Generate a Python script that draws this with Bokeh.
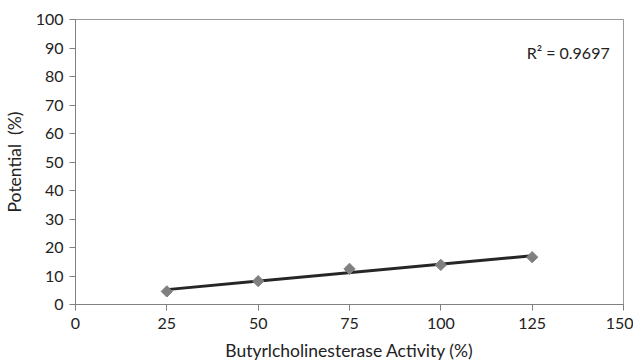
from bokeh.plotting import figure
from bokeh.models import Range1d, FixedTicker, Label, ColumnDataSource
from bokeh.embed import file_html
from bokeh.resources import INLINE
import numpy as np

activity = [25, 50, 75, 100, 125]
potential = [4.6, 8.2, 12.5, 13.9, 16.6]
x_ticks = [0, 25, 50, 75, 100, 125, 150]
y_ticks = [0, 10, 20, 30, 40, 50, 60, 70, 80, 90, 100]
r2_text = "R\u00b2 = 0.9697"
x_title = "Butyrlcholinesterase Activity (%)"
y_title = "Potential\u00a0\u00a0(%)"

FONT = "Lato"

p = figure(width=633, height=363, output_backend="svg", toolbar_location=None,
           x_range=Range1d(0, 150), y_range=Range1d(0, 100),
           min_border_left=10, min_border_right=10, min_border_top=19, min_border_bottom=10)
p.background_fill_color = "white"
p.border_fill_color = "white"
p.outline_line_color = "#9a9a9a"
p.outline_line_width = 1
p.xgrid.visible = False
p.ygrid.visible = False

# trend line (least-squares fit of the points)
slope, intercept = np.polyfit(activity, potential, 1)
fx = [activity[0], activity[-1]]
fy = [slope * v + intercept for v in fx]
p.line(fx, fy, line_color="#262626", line_width=3)

src = ColumnDataSource(dict(x=activity, y=potential))
p.scatter("x", "y", source=src, marker="square", size=8, angle=np.pi / 4,
          fill_color="#808080", line_color="#808080")

for ax in (p.xaxis, p.yaxis):
    ax.axis_line_color = "#808080"
    ax.major_tick_line_color = "#808080"
    ax.major_tick_out = 6
    ax.major_tick_in = 0
    ax.minor_tick_line_color = None
    ax.major_label_text_font = FONT
    ax.major_label_text_font_size = "16px"
    ax.major_label_text_color = "#222222"
    ax.axis_label_text_font = FONT
    ax.axis_label_text_font_size = "17.5px"
    ax.axis_label_text_font_style = "normal"
    ax.axis_label_text_color = "#222222"

p.xaxis.ticker = FixedTicker(ticks=x_ticks)
p.yaxis.ticker = FixedTicker(ticks=y_ticks)
p.xaxis.axis_label = x_title
p.yaxis.axis_label = y_title
p.xaxis.major_label_standoff = 7
p.yaxis.major_label_standoff = 6
p.xaxis.axis_label_standoff = 8
p.yaxis.axis_label_standoff = 8

p.add_layout(Label(x=123.5, y=88.5, text=r2_text, text_font=FONT, text_font_size="16px",
                   text_color="#222222", text_baseline="middle"))

open("out.html", "w").write(file_html(p, INLINE))
